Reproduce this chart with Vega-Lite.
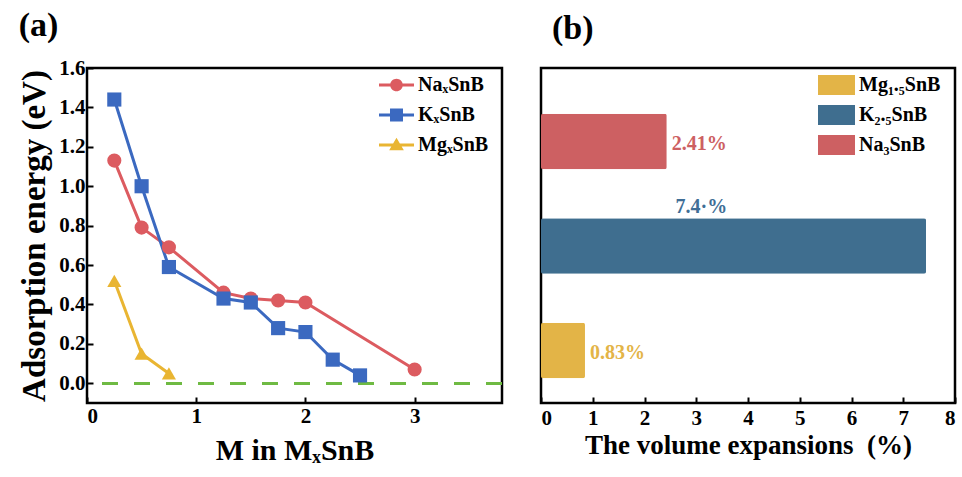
{
  "$schema": "https://vega.github.io/schema/vega-lite/v6.json",
  "background": "white",
  "padding": {"left": 17, "top": 7, "right": 2, "bottom": 2},
  "spacing": 39,
  "bounds": "flush",
  "resolve": {
    "scale": {"fill": "independent", "shape": "independent", "stroke": "independent", "color": "independent"},
    "legend": {"fill": "independent", "shape": "independent", "stroke": "independent", "color": "independent"}
  },
  "config": {
    "font": "Liberation Serif",
    "view": {"stroke": "black", "strokeWidth": 2.5},
    "axis": {
      "domain": false, "grid": false, "ticks": true,
      "tickColor": "black", "tickWidth": 2, "tickSize": -6,
      "labelFont": "Liberation Serif", "labelFontSize": 21, "labelFontWeight": "bold", "labelColor": "black", "labelPadding": 8,
      "titleFont": "Liberation Serif", "titleFontWeight": "bold", "titleColor": "black"
    },
    "legend": {
      "labelFont": "Liberation Serif", "labelFontSize": 20, "labelFontWeight": "bold", "labelColor": "black", "padding": 0
    },
    "title": {"font": "Liberation Serif", "fontSize": 34, "fontWeight": "bold", "color": "black"}
  },
  "hconcat": [
    {
      "width": 415, "height": 335,
      "title": {"text": "(a)", "anchor": "start", "frame": "bounds", "offset": 14},
      "data": {"values": [
        {"series": "NaₓSnB", "m": 0.25, "e": 1.13},
        {"series": "NaₓSnB", "m": 0.5, "e": 0.79},
        {"series": "NaₓSnB", "m": 0.75, "e": 0.69},
        {"series": "NaₓSnB", "m": 1.25, "e": 0.46},
        {"series": "NaₓSnB", "m": 1.5, "e": 0.43},
        {"series": "NaₓSnB", "m": 1.75, "e": 0.42},
        {"series": "NaₓSnB", "m": 2.0, "e": 0.41},
        {"series": "NaₓSnB", "m": 3.0, "e": 0.07},
        {"series": "KₓSnB", "m": 0.25, "e": 1.44},
        {"series": "KₓSnB", "m": 0.5, "e": 1.0},
        {"series": "KₓSnB", "m": 0.75, "e": 0.59},
        {"series": "KₓSnB", "m": 1.25, "e": 0.43},
        {"series": "KₓSnB", "m": 1.5, "e": 0.41},
        {"series": "KₓSnB", "m": 1.75, "e": 0.28},
        {"series": "KₓSnB", "m": 2.0, "e": 0.26},
        {"series": "KₓSnB", "m": 2.25, "e": 0.12},
        {"series": "KₓSnB", "m": 2.5, "e": 0.04},
        {"series": "MgₓSnB", "m": 0.25, "e": 0.52},
        {"series": "MgₓSnB", "m": 0.5, "e": 0.15},
        {"series": "MgₓSnB", "m": 0.75, "e": 0.05}
      ]},
      "layer": [
        {
          "mark": {"type": "rule", "color": "#6fba43", "strokeWidth": 2.5, "strokeDash": [16, 16]},
          "encoding": {"y": {"datum": 0, "type": "quantitative", "scale": {"domain": [-0.1, 1.6]}}}
        },
        {
          "mark": {"type": "line", "strokeWidth": 3},
          "encoding": {
            "x": {"field": "m", "type": "quantitative", "scale": {"domain": [0, 3.8], "nice": false},
                  "axis": {"values": [0, 1, 2, 3], "format": "d", "title": "M in MₓSnB", "titleFontSize": 30, "titlePadding": 9, "labelPadding": 8}},
            "y": {"field": "e", "type": "quantitative", "scale": {"domain": [-0.1, 1.6], "nice": false},
                  "axis": {"values": [0, 0.2, 0.4, 0.6, 0.8, 1.0, 1.2, 1.4, 1.6], "format": ".1f", "title": "Adsorption energy (eV)", "titleFontSize": 33, "titlePadding": 7}},
            "stroke": {"field": "series", "type": "nominal",
                       "scale": {"domain": ["NaₓSnB", "KₓSnB", "MgₓSnB"], "range": ["#dc5b60", "#3b69c0", "#e9b532"]},
                       "legend": null}
          }
        },
        {
          "mark": {"type": "point", "filled": true, "opacity": 1, "size": 200},
          "encoding": {
            "x": {"field": "m", "type": "quantitative"},
            "y": {"field": "e", "type": "quantitative"},
            "color": {"field": "series", "type": "nominal", "sort": ["NaₓSnB", "KₓSnB", "MgₓSnB"],
                     "scale": {"range": ["#dc5b60", "#3b69c0", "#e9b532"]},
                     "legend": {"orient": "none", "legendX": 292, "legendY": 5, "title": null, "symbolSize": 1225, "symbolStrokeWidth": 0, "symbolOpacity": 1, "labelOffset": 4, "clipHeight": 24, "rowPadding": 6,
                                "encode": {"symbols": {"update": {"shape": {"signal": "datum.value === 'NaₓSnB' ? 'M-1,-0.086H1V0.086H-1Z M-0.36,0A0.36,0.36,0,1,1,0.36,0A0.36,0.36,0,1,1,-0.36,0Z' : datum.value === 'KₓSnB' ? 'M-1,-0.086H1V0.086H-1Z M-0.37,-0.37H0.37V0.37H-0.37Z' : 'M-1,-0.086H1V0.086H-1Z M0,-0.42L0.42,0.3H-0.42Z'"}}}}}},
            "shape": {"field": "series", "type": "nominal", "sort": ["NaₓSnB", "KₓSnB", "MgₓSnB"],
                      "scale": {"range": ["circle", "square", "triangle-up"]},
                      "legend": null}
          }
        }
      ]
    },
    {
      "width": 414, "height": 335,
      "title": {"text": "(b)", "anchor": "start", "frame": "group", "dx": 11, "offset": 22},
      "data": {"values": [
        {"compound": "Na₃SnB", "value": 2.43, "label": "2.41%"},
        {"compound": "K₂.₅SnB", "value": 7.44, "label": "7.4·%"},
        {"compound": "Mg₁.₅SnB", "value": 0.85, "label": "0.83%"}
      ]},
      "layer": [
        {
          "mark": {"type": "bar", "cornerRadius": 2},
          "encoding": {
            "y": {"field": "compound", "type": "nominal", "sort": ["Na₃SnB", "K₂.₅SnB", "Mg₁.₅SnB"],
                  "scale": {"paddingInner": 0.469, "paddingOuter": 0.337, "align": 0.648}, "axis": null},
            "x": {"field": "value", "type": "quantitative", "scale": {"domain": [0, 8], "nice": false},
                  "axis": {"values": [0, 1, 2, 3, 4, 5, 6, 7, 8], "format": "d", "title": "The volume expansions\u00a0\u00a0(%)", "titleFontSize": 27, "titlePadding": 4, "labelPadding": 10}},
            "fill": {"field": "compound", "type": "nominal",
                     "scale": {"domain": ["Mg₁.₅SnB", "K₂.₅SnB", "Na₃SnB"], "range": ["#e3b447", "#3f6e8f", "#cd6062"]},
                     "legend": {"orient": "none", "legendX": 277, "legendY": 5, "title": null, "symbolType": "M-1,-0.54H1V0.54H-1Z", "symbolSize": 1369, "symbolStrokeWidth": 0, "labelOffset": 4, "clipHeight": 24, "rowPadding": 6}}
          }
        },
        {
          "transform": [{"filter": "datum.compound !== 'K₂.₅SnB'"}],
          "mark": {"type": "text", "align": "left", "baseline": "middle", "dx": 5, "dy": 3, "fontSize": 20, "fontWeight": "bold", "font": "Liberation Serif"},
          "encoding": {
            "y": {"field": "compound", "type": "nominal", "sort": ["Na₃SnB", "K₂.₅SnB", "Mg₁.₅SnB"]},
            "x": {"field": "value", "type": "quantitative"},
            "text": {"field": "label"},
            "fill": {"field": "compound", "type": "nominal", "legend": null}
          }
        },
        {
          "transform": [{"filter": "datum.compound === 'K₂.₅SnB'"}],
          "mark": {"type": "text", "align": "center", "baseline": "middle", "dy": -39, "fontSize": 20, "fontWeight": "bold", "font": "Liberation Serif", "fill": "#3f6e96"},
          "encoding": {
            "y": {"field": "compound", "type": "nominal", "sort": ["Na₃SnB", "K₂.₅SnB", "Mg₁.₅SnB"]},
            "x": {"datum": 3.1, "type": "quantitative"},
            "text": {"field": "label"}
          }
        }
      ]
    }
  ]
}
